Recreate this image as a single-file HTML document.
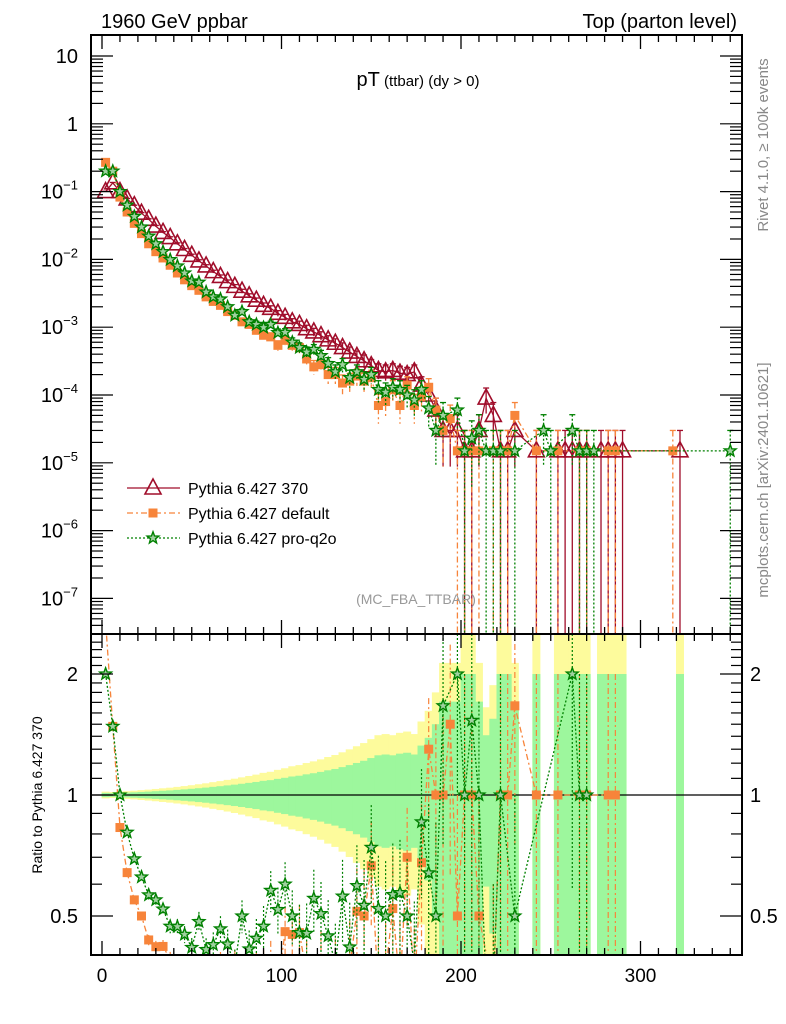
<!DOCTYPE html>
<html><head><meta charset="utf-8">
<style>
html,body{margin:0;padding:0;background:#fff;width:786px;height:1024px;overflow:hidden;}
svg{display:block;font-family:"Liberation Sans",sans-serif;}
</style></head>
<body>
<svg id="chart" width="786" height="1024" viewBox="0 0 786 1024" xmlns="http://www.w3.org/2000/svg">
<defs>
<clipPath id="clipMain"><rect x="91" y="35" width="651" height="598"/></clipPath>
<clipPath id="clipRatio"><rect x="91" y="634" width="651" height="321"/></clipPath>
</defs>
<g id="ratioBands" clip-path="url(#clipRatio)"></g>
<g id="mainMarks" clip-path="url(#clipMain)"></g>
<g id="ratioMarks" clip-path="url(#clipRatio)"></g>
<g id="axes"></g>
<text x="101" y="28" font-size="20">1960 GeV ppbar</text>
<text x="737" y="28" font-size="20" text-anchor="end">Top (parton level)</text>
<text x="418" y="86" text-anchor="middle"><tspan font-size="20">pT</tspan><tspan font-size="15"> (ttbar) (dy &gt; 0)</tspan></text>
<text x="416" y="604" font-size="14" fill="#999" text-anchor="middle">(MC_FBA_TTBAR)</text>
<text transform="translate(768,145) rotate(-90)" font-size="15" fill="#888" text-anchor="middle">Rivet 4.1.0, ≥ 100k events</text>
<text transform="translate(768,480) rotate(-90)" font-size="15" fill="#888" text-anchor="middle">mcplots.cern.ch [arXiv:2401.10621]</text>
<text transform="translate(42,795) rotate(-90)" font-size="14" text-anchor="middle">Ratio to Pythia 6.427 370</text>
<g id="legend"></g>
</svg>
<script>
const binCenters=[2,6,10,14,18,22,26,30,34,38,42,46,50,54,58,62,66,70,74,78,82,86,90,94,98,102,106,110,114,118,122,126,130,134,138,142,146,150,154,158,162,166,170,174,178,182,186,190,194,198,202,206,210,214,218,222,226,230,234,238,242,246,250,254,258,262,266,270,274,278,282,286,290,294,298,302,306,310,314,318,322,326,330,334,338,342,346,350];
const ref370=[0.10,0.135,0.10,0.078,0.062,0.048,0.039,0.031,0.025,0.021,0.017,0.014,0.0115,0.0095,0.0080,0.0066,0.0056,0.0047,0.0040,0.0034,0.0029,0.0025,0.0021,0.0019,0.0016,0.0014,0.0012,0.0011,0.00095,0.00085,0.00075,0.00065,0.00058,0.00050,0.00043,0.00037,0.00032,0.00027,0.00023,0.00022,0.00023,0.00021,0.00020,0.00022,0.00014,0.00010,0.00006,0.00003,0.00003,0.00003,0.000015,0.000015,0.00003,0.00009,0.00005,0.000015,0.000015,0.00003,0,0,0.000015,0,0,0.000015,0.000015,0.000015,0.000015,0.000015,0,0.000015,0.000015,0.000015,0.000015,0,0,0,0,0,0,0,0.000015,0,0,0,0,0,0,0];
const defaultVals=[0.27,0.20,0.083,0.050,0.034,0.024,0.017,0.013,0.0105,0.0082,0.0063,0.005,0.0041,0.0035,0.0028,0.0024,0.0021,0.0017,0.0015,0.0012,0.0011,0.0009,0.00076,0.00072,0.00054,0.00064,0.00054,0.0005,0.00034,0.00026,0.00028,0.0002,0.0002,0.00015,0.00016,0.00019,0.00016,0.00018,0.00007,0.00008,0.00012,0.00007,0.00014,0.00007,0.000095,0.00013,0.00006,0.00003,0.000045,0.000015,0.000015,0.000015,0.000015,0,0.000015,0.000015,0.000015,0.00005,0,0,0.000015,0,0,0.000015,0,0,0.000015,0.000015,0,0,0.000015,0.000015,0,0,0,0,0,0,0,0.000015,0,0,0,0,0,0,0,0];
const proq2oVals=[0.20,0.20,0.10,0.063,0.043,0.030,0.022,0.017,0.013,0.0099,0.0080,0.0063,0.0048,0.0046,0.0033,0.0028,0.0026,0.0020,0.0015,0.0017,0.0012,0.0011,0.00099,0.0011,0.00083,0.00084,0.0006,0.0005,0.00043,0.00047,0.00038,0.00029,0.00022,0.00028,0.00018,0.00022,0.00017,0.0002,0.00012,0.00011,0.00013,0.00012,0.0001,0.000084,0.00012,0.000064,0.00003,0.00005,0,0.00006,0.000015,0.000023,0.00003,0.000015,0.000015,0.000015,0,0.000015,0,0,0,0.00003,0.000015,0,0,0.00003,0.000015,0.000015,0.000015,0,0,0,0,0,0,0,0,0,0,0,0,0,0,0,0,0,0,0.000015];
const xTickLabels=["0","100","200","300"];
const yTickExps=[1,0,-1,-2,-3,-4,-5,-6,-7];
const ratioTickLabels=["0.5","1","2"];
const eventWeight=1.5e-5;

const NS="http://www.w3.org/2000/svg";
const X=g=>102+g*1.795;
const Y=v=>56+(1-Math.log10(v))*67.8;
const R=r=>795-Math.log2(r)*121;
function mk(parent,tag,attrs){const e=document.createElementNS(NS,tag);for(const k in attrs)e.setAttribute(k,attrs[k]);parent.appendChild(e);return e;}
const main=document.getElementById('mainMarks');
const ratio=document.getElementById('ratioMarks');
const bands=document.getElementById('ratioBands');
const axes=document.getElementById('axes');

binCenters.forEach((c,i)=>{
  const v=ref370[i]; if(!v) return;
  const rel=Math.sqrt(eventWeight/v);
  const x0=X(c-2)-0.4, w=X(c+2)-X(c-2)+0.8;
  const yu=1+1.6*rel, yl=Math.max(1-1.6*rel,0.2);
  const y1=mk(bands,'rect',{x:x0,y:Math.max(R(yu),634),width:w,height:Math.min(R(yl),955)-Math.max(R(yu),634),fill:'#fdfb9c'});
  
  
});
binCenters.forEach((c,i)=>{
  const v=ref370[i]; if(!v) return;
  const rel=Math.sqrt(eventWeight/v);
  const x0=X(c-2)-0.4, w=X(c+2)-X(c-2)+0.8;
  const gu=1+rel, gl=Math.max(1-rel,0.2);
  const g1=mk(bands,'rect',{x:x0,y:Math.max(R(gu),634),width:w,height:Math.min(R(gl),955)-Math.max(R(gu),634),fill:'#9df79d'});
  
  
});

function marker(parent,type,cx,cy,color){
  let e;
  if(type==='tri'){
    e=mk(parent,'path',{d:`M${cx},${cy-9}L${cx+8},${cy+6}L${cx-8},${cy+6}Z`,fill:'none',stroke:color,'stroke-width':1.6});
  }else if(type==='sq'){
    e=mk(parent,'rect',{x:cx-4.5,y:cy-4.5,width:9,height:9,fill:color});
  }else{
    let d='';for(let k=0;k<10;k++){const a=-Math.PI/2+k*Math.PI/5;const r=k%2?2.6:6.2;d+=(k?'L':'M')+(cx+r*Math.cos(a)).toFixed(1)+','+(cy+r*Math.sin(a)).toFixed(1);}
    e=mk(parent,'path',{d:d+'Z',fill:'#9fd09f',stroke:color,'stroke-width':1.4});
  }
  return e;
}

const series=[
 {vals:ref370,color:'#a00d2a',type:'tri',dash:'',name:'pythia-370'},
 {vals:defaultVals,color:'#f7843a',type:'sq',dash:'6,3,2,3',name:'pythia-default'},
 {vals:proq2oVals,color:'#008000',type:'star',dash:'2,2',name:'pythia-pro-q2o'}
];

series.forEach(s=>{
  const g=mk(main,'g',{});
  
  
  let pts=[];
  binCenters.forEach((c,i)=>{const v=s.vals[i];if(v>0)pts.push([X(c),Y(v),v]);});
  const line=mk(g,'polyline',{points:pts.map(p=>p[0].toFixed(1)+','+p[1].toFixed(1)).join(' '),fill:'none',stroke:s.color,'stroke-width':1.3,'stroke-dasharray':s.dash});
  
  
  pts.forEach(p=>{
    const err=Math.sqrt(p[2]*eventWeight);
    const yt=Y(p[2]+err), yb=(p[2]-err)>1e-9?Y(p[2]-err):633;
    mk(g,'line',{x1:p[0],x2:p[0],y1:yt,y2:yb,stroke:s.color,'stroke-width':1.3,'stroke-dasharray':s.dash});
    mk(g,'line',{x1:p[0]-3,x2:p[0]+3,y1:yt,y2:yt,stroke:s.color,'stroke-width':1.3});
    const m=marker(g,s.type,p[0],p[1],s.color);
    
    
  });
});

const one=mk(ratio,'line',{x1:91,x2:742,y1:R(1),y2:R(1),stroke:'#000','stroke-width':1.3});


series.slice(1).forEach(s=>{
  const g=mk(ratio,'g',{});
  
  
  let pts=[];
  binCenters.forEach((c,i)=>{const v=s.vals[i],r0=ref370[i];if(v>0&&r0>0)pts.push([X(c),v/r0,Math.sqrt(eventWeight/v)]);});
  const line=mk(g,'polyline',{points:pts.map(p=>p[0].toFixed(1)+','+Math.min(R(p[1]),990).toFixed(1)).join(' '),fill:'none',stroke:s.color,'stroke-width':1.3,'stroke-dasharray':s.dash});
  
  
  pts.forEach(p=>{
    const yt=Math.max(R(p[1]*(1+p[2])),630), lo=p[1]*(1-p[2]);
    const yb=lo>0.3?R(lo):955;
    mk(g,'line',{x1:p[0],x2:p[0],y1:yt,y2:yb,stroke:s.color,'stroke-width':1.2,'stroke-dasharray':s.dash});
    const m=marker(g,s.type,p[0],Math.min(R(p[1]),990),s.color);
    
    
  });
});

[[35,634],[634,955]].forEach(([t,b],k)=>{
  const f=mk(axes,'rect',{x:91,y:t,width:651,height:b-t,fill:'none',stroke:'#000','stroke-width':2});
  
  
  for(let g=0;g<=350;g+=10){
    const L=(g%100===0)?14:7;
    mk(axes,'line',{x1:X(g),x2:X(g),y1:b,y2:b-L,stroke:'#000','stroke-width':1.3});
    mk(axes,'line',{x1:X(g),x2:X(g),y1:t,y2:t+L,stroke:'#000','stroke-width':1.3});
  }
});
xTickLabels.forEach(l=>{
  const t=mk(axes,'text',{x:X(+l),y:982,'font-size':19,'text-anchor':'middle'});
  t.textContent=l;
  
  
});
for(let e=-8;e<=1;e++){
  for(let m=1;m<10;m++){
    const y=Y(m*Math.pow(10,e)); if(y<36||y>632) continue;
    const L=m===1?22:12;
    mk(axes,'line',{x1:91,x2:91+L,y1:y,y2:y,stroke:'#000','stroke-width':1.2});
    mk(axes,'line',{x1:742,x2:742-L,y1:y,y2:y,stroke:'#000','stroke-width':1.2});
  }
}
yTickExps.forEach(e=>{
  const t=mk(axes,'text',{x:78,y:Y(Math.pow(10,e))+7,'font-size':20,'text-anchor':'end'});
  if(e===1)t.textContent='10';else if(e===0)t.textContent='1';
  else{t.textContent='10';const s=mk(t,'tspan',{dy:-9,'font-size':13});s.textContent='−'+(-e);}
  
  
});
[0.4,0.5,0.6,0.7,0.8,0.9,1,1.1,1.2,1.3,1.4,1.5,1.6,1.7,1.8,1.9,2,2.1,2.2,2.3,2.4].forEach(r=>{
  const y=R(r);if(y<636||y>954)return;
  const L=(r===0.5||r===1||r===2)?22:11;
  mk(axes,'line',{x1:91,x2:91+L,y1:y,y2:y,stroke:'#000','stroke-width':1.2});
  mk(axes,'line',{x1:742,x2:742-L,y1:y,y2:y,stroke:'#000','stroke-width':1.2});
});
ratioTickLabels.forEach(l=>{
  const a=mk(axes,'text',{x:78,y:R(+l)+7,'font-size':20,'text-anchor':'end'});a.textContent=l;
  
  
  const b=mk(axes,'text',{x:750,y:R(+l)+7,'font-size':20});b.textContent=l;
  
  
});
const lg=document.getElementById('legend');
const labels=['Pythia 6.427 370','Pythia 6.427 default','Pythia 6.427 pro-q2o'];
series.forEach((s,i)=>{
  const y=488+i*25;
  const g=mk(lg,'g',{});
  
  
  mk(g,'line',{x1:127,x2:180,y1:y,y2:y,stroke:s.color,'stroke-width':1.3,'stroke-dasharray':s.dash});
  marker(g,s.type,153,y,s.color);
  const t=mk(g,'text',{x:188,y:y+6,'font-size':16});t.textContent=labels[i];
});
</script>
</body></html>
